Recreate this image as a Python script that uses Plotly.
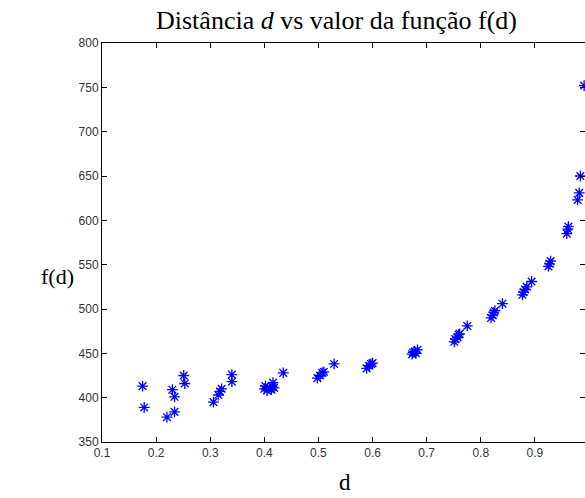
import plotly.graph_objects as go

d_values = [0.175, 0.178, 0.220, 0.230, 0.234, 0.234, 0.251, 0.253,
            0.306, 0.315, 0.318, 0.321, 0.340, 0.340,
            0.400, 0.402, 0.405, 0.410, 0.413, 0.415, 0.416, 0.418, 0.435,
            0.498, 0.503, 0.507, 0.510, 0.529,
            0.589, 0.594, 0.597, 0.600,
            0.673, 0.675, 0.678, 0.680, 0.683,
            0.751, 0.753, 0.757, 0.759, 0.761, 0.775,
            0.819, 0.822, 0.824, 0.826, 0.840,
            0.877, 0.879, 0.882, 0.885, 0.894,
            0.925, 0.927, 0.929,
            0.959, 0.961, 0.962,
            0.979, 0.982, 0.984, 0.991]
f_values = [413, 389, 378, 409, 401, 384, 425, 416,
            395, 403, 407, 410, 426, 418,
            410, 413, 408, 411, 409, 412, 417, 411, 428,
            422, 425, 428, 429, 438,
            433, 436, 438, 439,
            449, 451, 452, 450, 454,
            463, 466, 468, 471, 472, 481,
            490, 493, 496, 498, 506,
            516, 519, 522, 525, 531,
            548, 551, 554,
            585, 590, 593,
            623, 631, 650, 752]

x_ticks = [0.1, 0.2, 0.3, 0.4, 0.5, 0.6, 0.7, 0.8, 0.9]
y_ticks = [350, 400, 450, 500, 550, 600, 650, 700, 750, 800]

fig = go.Figure()
fig.add_trace(go.Scatter(
    x=d_values, y=f_values, mode="markers",
    marker=dict(symbol="asterisk-open", size=9, color="#0000ff",
                line=dict(color="#0000ff", width=1.3)),
    showlegend=False, cliponaxis=False,
))

axis_common = dict(showgrid=False, zeroline=False, showline=True, linecolor="black",
                   linewidth=1, mirror="ticks", ticks="inside", ticklen=5,
                   tickcolor="black",
                   tickfont=dict(family="Liberation Sans, Arial", size=12, color="#333"))

fig.update_xaxes(range=[0.1, 0.9926], tickvals=x_ticks,
                 ticktext=[f"{v:g}" for v in x_ticks], **axis_common)
fig.update_yaxes(range=[350, 800], tickvals=y_ticks,
                 ticktext=[str(v) for v in y_ticks], **axis_common)

serif = "Liberation Serif, Times New Roman, serif"
fig.update_layout(
    width=585, height=498,
    margin=dict(l=102, r=0, t=43, b=56),
    paper_bgcolor="white", plot_bgcolor="white",
    annotations=[
        dict(text="Distância <i>d</i> vs valor da função f(d)",
             xref="paper", yref="paper", x=(336.5 - 102) / 483, y=1.0,
             yanchor="middle", yshift=23,
             showarrow=False, font=dict(family=serif, size=26, color="black")),
        dict(text="f(d)", xref="paper", yref="paper", x=-0.13, y=0.415,
             yanchor="middle",
             showarrow=False, font=dict(family=serif, size=22, color="black")),
        dict(text="d", xref="paper", yref="paper", x=(345 - 102) / 483, y=0,
             yanchor="middle", yshift=-40,
             showarrow=False, font=dict(family=serif, size=23, color="black")),
    ],
)

fig.write_html("out.html", config={"displayModeBar": False},
               post_script="document.body.style.margin='0';document.body.style.overflow='hidden';")
